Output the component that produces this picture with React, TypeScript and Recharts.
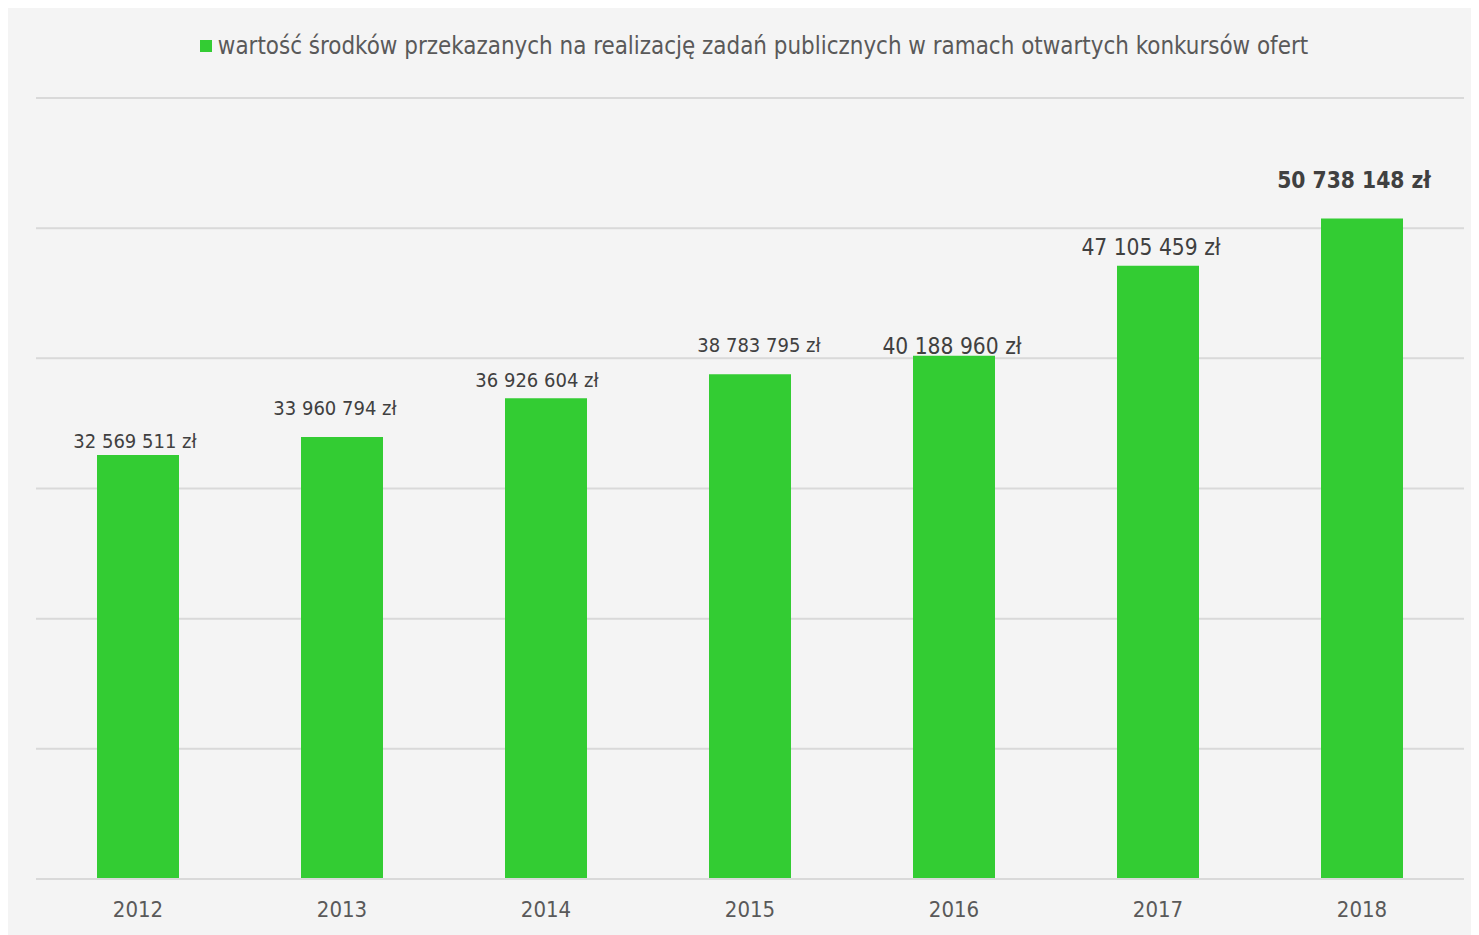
import React from "react";
import { BarChart, Bar, XAxis, YAxis, CartesianGrid, LabelList, Legend } from "recharts";

const years = ["2012", "2013", "2014", "2015", "2016", "2017", "2018"];
const amounts = [32569511, 33960794, 36926604, 38783795, 40188960, 47105459, 50738148];
const yTicks = [0, 10000000, 20000000, 30000000, 40000000, 50000000, 60000000];
const seriesName = "wartość środków przekazanych na realizację zadań publicznych w ramach otwartych konkursów ofert";

// label nudges (style only): dx from bar centre, dy from bar top, font size, weight
const labelNudges = [
  { dx: -3, dy: -14, fs: 20, fw: 400 },
  { dx: -7, dy: -29, fs: 20, fw: 400 },
  { dx: -9, dy: -18, fs: 20, fw: 400 },
  { dx: 9, dy: -29, fs: 20, fw: 400 },
  { dx: -2, dy: -10, fs: 22.6, fw: 400 },
  { dx: -7, dy: -19, fs: 22.6, fw: 400 },
  { dx: -8, dy: -39, fs: 22.6, fw: 700 },
];

const data = years.map((y, i) => ({ year: y, value: amounts[i] }));

const GREEN = "#33cc33";
const FONT = "'DejaVu Sans Condensed', 'DejaVu Sans', sans-serif";

const formatZl = (v: number) =>
  String(Math.round(v)).replace(/\B(?=(\d{3})+(?!\d))/g, " ") + " zł";

const renderLabel = (props: any) => {
  const { x, y, width, value, index } = props;
  const n = labelNudges[index] || { dx: 0, dy: -14, fs: 20, fw: 400 };
  return (
    <text
      x={Number(x) + Number(width) / 2 + n.dx}
      y={Number(y) + n.dy}
      textAnchor="middle"
      dominantBaseline="central"
      fontFamily={FONT}
      fontSize={n.fs}
      fontWeight={n.fw}
      fill="#404040"
    >
      {formatZl(Number(value))}
    </text>
  );
};

const renderLegend = () => (
  <div
    style={{
      height: 66,
      display: "flex",
      justifyContent: "center",
      alignItems: "flex-start",
      fontFamily: FONT,
      fontSize: 23.9,
      color: "#595959",
      paddingLeft: 8,
      boxSizing: "border-box",
    }}
  >
    <div style={{ display: "flex", alignItems: "center", height: 28 }}>
      <span style={{ display: "inline-block", width: 12, height: 12, background: GREEN, marginRight: 6 }} />
      <span>{seriesName}</span>
    </div>
  </div>
);

export default function App() {
  return (
    <div style={{ width: 1471, height: 927, background: "#f4f4f4" }}>
      <BarChart
        width={1471}
        height={927}
        data={data}
        margin={{ top: 24, right: 15, left: 28, bottom: 0 }}
        barCategoryGap={0}
      >
        <CartesianGrid vertical={false} stroke="#d9d9d9" strokeWidth={2} />
        <XAxis
          dataKey="year"
          axisLine={{ stroke: "#d9d9d9", strokeWidth: 2 }}
          tickLine={false}
          tickSize={0}
          tickMargin={22}
          height={56}
          tick={{ fill: "#595959", fontSize: 22, fontFamily: FONT }}
        />
        <YAxis hide domain={[0, 60000000]} ticks={yTicks} />
        <Legend verticalAlign="top" align="center" content={renderLegend} />
        <Bar dataKey="value" name={seriesName} fill={GREEN} barSize={82} isAnimationActive={false}>
          <LabelList dataKey="value" content={renderLabel} />
        </Bar>
      </BarChart>
    </div>
  );
}
